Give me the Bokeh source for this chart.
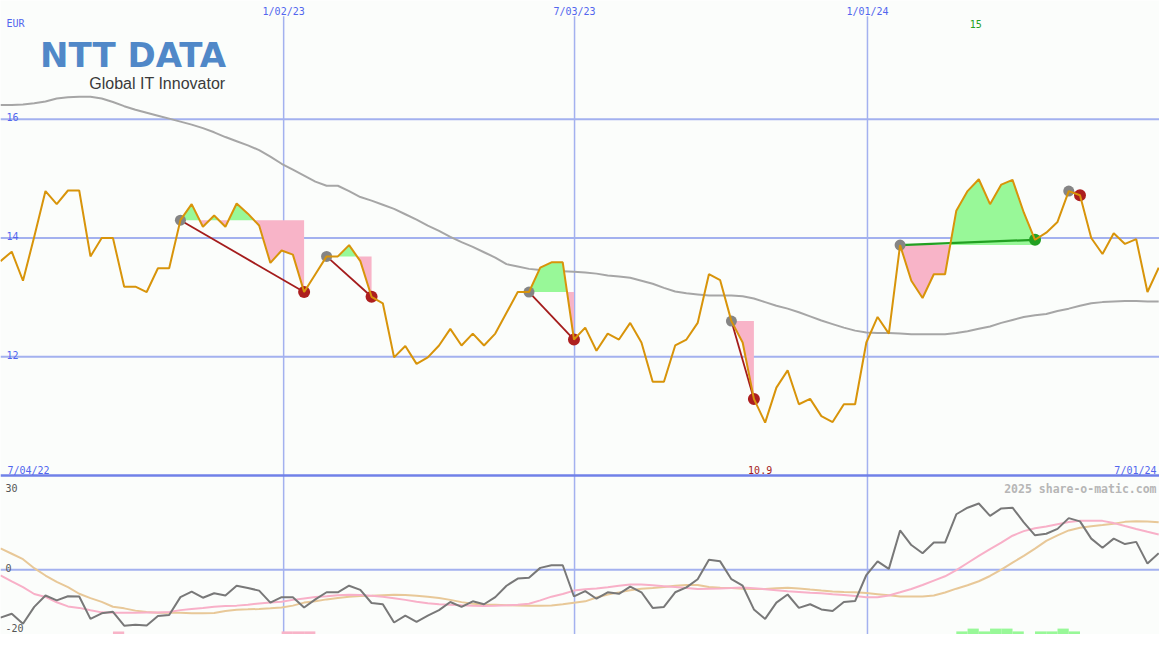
import numpy as np
from bokeh.plotting import figure
from bokeh.models import Range1d, Label
from bokeh.core.properties import value
from bokeh.embed import file_html
from bokeh.resources import INLINE

# ---------------- data (weekly, index 0 = 7/04/22) ----------------
price = [13.61, 13.77, 13.28, 14.02, 14.79, 14.57, 14.80, 14.80, 13.69, 14.00,
         14.00, 13.18, 13.18, 13.09, 13.49, 13.49, 14.30, 14.57, 14.19, 14.38,
         14.19, 14.58, 14.41, 14.21, 13.58, 13.79, 13.72, 13.09, 13.39, 13.69,
         13.69, 13.88, 13.61, 13.01, 12.90, 11.99, 12.18, 11.88, 11.99, 12.19,
         12.47, 12.19, 12.39, 12.19, 12.39, 12.74, 13.09, 13.09, 13.50, 13.59,
         13.59, 12.29, 12.49, 12.10, 12.39, 12.29, 12.57, 12.24, 11.58, 11.58,
         12.19, 12.29, 12.57, 13.39, 13.29, 12.60, 12.24, 11.29, 10.89, 11.48,
         11.77, 11.20, 11.29, 11.00, 10.90, 11.20, 11.20, 12.24, 12.67, 12.39,
         13.88, 13.28, 12.99, 13.39, 13.39, 14.46, 14.79, 14.99, 14.57, 14.90,
         14.98, 14.43, 13.97, 14.09, 14.27, 14.79, 14.72, 14.00, 13.73, 14.08,
         13.90, 13.98, 13.09, 13.50]

moving_avg = [16.24, 16.24, 16.25, 16.27, 16.30, 16.35, 16.37, 16.38, 16.38, 16.35,
              16.29, 16.22, 16.16, 16.11, 16.06, 16.01, 15.96, 15.91, 15.85, 15.78,
              15.70, 15.63, 15.56, 15.48, 15.37, 15.25, 15.15, 15.05, 14.95, 14.88,
              14.88, 14.79, 14.69, 14.63, 14.56, 14.49, 14.40, 14.31, 14.21, 14.12,
              14.02, 13.93, 13.85, 13.76, 13.67, 13.56, 13.52, 13.48, 13.46, 13.45,
              13.44, 13.43, 13.42, 13.40, 13.37, 13.35, 13.33, 13.28, 13.23, 13.16,
              13.10, 13.07, 13.05, 13.03, 13.03, 13.03, 13.02, 12.98, 12.92, 12.86,
              12.81, 12.75, 12.68, 12.61, 12.55, 12.49, 12.44, 12.41, 12.40, 12.40,
              12.39, 12.38, 12.38, 12.38, 12.38, 12.40, 12.43, 12.47, 12.51, 12.57,
              12.62, 12.67, 12.70, 12.72, 12.77, 12.81, 12.86, 12.90, 12.92, 12.93,
              12.94, 12.94, 12.93, 12.93]

osc_momentum = [-15.46, -14.20, -17.44, -12.00, -8.33, -9.90, -8.55, -8.64, -15.87, -14.07,
                -13.57, -18.06, -17.75, -17.97, -14.92, -14.61, -8.86, -7.07, -9.05, -7.60,
                -8.33, -5.18, -5.91, -6.75, -10.62, -8.86, -8.86, -12.19, -9.58, -7.29,
                -7.29, -5.18, -6.53, -10.74, -11.15, -17.03, -14.83, -16.81, -14.83, -13.04,
                -10.43, -12.00, -10.21, -11.15, -8.86, -5.18, -2.89, -2.58, 0.57, 1.41,
                1.41, -8.64, -6.90, -9.36, -7.29, -7.79, -5.50, -7.29, -12.32, -12.00,
                -7.29, -5.72, -3.08, 3.20, 2.67, -3.08, -5.18, -12.82, -15.87, -10.62,
                -8.01, -12.32, -11.15, -12.82, -13.35, -10.43, -10.12, -1.73, 2.67, 0.25,
                12.63, 7.92, 5.28, 8.73, 8.73, 17.84, 19.95, 21.30, 17.34, 19.73,
                19.95, 15.24, 11.06, 11.56, 13.13, 16.59, 15.55, 9.99, 7.07, 9.99,
                8.23, 8.95, 1.95, 5.28]

osc_fast = [-1.82, -3.77, -5.66, -7.85, -8.80, -10.52, -11.84, -12.32, -13.10, -13.76,
            -13.89, -13.89, -13.89, -13.82, -13.82, -13.67, -13.04, -12.66, -12.32, -11.94,
            -11.72, -11.59, -11.34, -10.90, -10.62, -10.37, -9.74, -9.27, -8.80, -8.55,
            -8.26, -8.07, -8.17, -8.39, -8.70, -9.21, -9.74, -10.37, -10.84, -11.18,
            -11.34, -11.47, -11.59, -11.69, -11.62, -11.50, -11.31, -11.00, -9.90, -8.70,
            -7.85, -6.75, -6.31, -6.06, -5.66, -5.18, -4.81, -4.81, -5.06, -5.31,
            -5.62, -5.94, -6.22, -6.12, -6.06, -5.91, -5.72, -5.97, -6.28, -6.60,
            -6.94, -7.19, -7.48, -7.60, -7.89, -8.17, -8.48, -8.86, -8.86, -8.33,
            -7.29, -6.22, -4.96, -3.52, -2.14, -0.16, 2.14, 4.46, 6.60, 8.70,
            10.93, 12.41, 13.35, 13.89, 14.61, 15.33, 15.77, 15.77, 15.71, 14.99,
            14.04, 13.10, 12.19, 11.31]

osc_slow = [6.85, 5.12, 3.36, 0.47, -1.89, -3.93, -5.62, -7.76, -9.17, -10.37,
            -11.94, -12.47, -13.20, -13.67, -13.89, -13.86, -13.86, -14.07, -14.07, -13.98,
            -13.29, -12.91, -12.79, -12.66, -12.44, -12.16, -11.59, -10.62, -10.15, -9.58,
            -9.14, -8.73, -8.51, -8.39, -8.23, -8.07, -8.17, -8.42, -8.70, -9.11,
            -9.74, -10.46, -10.97, -11.25, -11.34, -11.44, -11.53, -11.66, -11.62, -11.53,
            -11.15, -10.65, -10.21, -8.95, -8.01, -7.32, -6.66, -6.13, -5.88, -5.56,
            -5.18, -4.96, -4.96, -5.56, -5.81, -5.94, -6.13, -6.22, -6.22, -5.97,
            -5.81, -6.06, -6.41, -6.72, -7.01, -7.23, -7.29, -7.54, -7.89, -8.26,
            -8.64, -8.64, -8.64, -8.33, -7.38, -6.13, -5.03, -3.74, -2.04, 0.00,
            2.26, 4.46, 6.75, 9.27, 11.06, 12.63, 13.51, 13.98, 14.36, 14.77,
            15.39, 15.55, 15.49, 15.24]

date_labels = ["1/02/23", "7/03/23", "1/01/24"]
date_positions = [25.18, 51.05, 77.1]
start_label = "7/04/22"
end_label = "7/01/24"
currency = "EUR"
price_ticks = [16, 14, 12]
osc_ticks = [30, 0, -20]

trade_entries = [16, 29, 47, 65, 80, 95]
trade_exits = [27, 33, 51, 67, 92, 96]

green_bar_weeks = [85, 86, 87, 88, 89, 90, 92, 93, 94, 95]
green_bar_heights = [1.0, 1.9, 1.0, 1.9, 1.9, 1.0, 1.0, 1.0, 1.9, 1.0]
pink_bar_weeks = [10, 25, 26, 27]
pink_bar_heights = [1.0, 1.0, 1.0, 1.0]

# ---------------- styling ----------------
W, H = 1159, 634
BG = "#fbfdfb"
GRID = "#a3b1ef"
SEP = "#7081e8"
BLUE_TXT = "#5266ee"
ORANGE = "#d8940a"
GREEN_FILL = "#98f898"
PINK_FILL = "#f8b4c8"
LOSS = "#a41c1c"
GAIN = "#22a022"
MONO = value("DejaVu Sans Mono")

X_END = 103.07
PRICE_LO, PRICE_HI = 7.322, 18.0
OSC_LO, OSC_HI = -20.89, 183.32
PRICE_SEP = 10.0          # boundary between the two panels
OSC_TOP = 30.3

x = np.arange(len(price))

p = figure(width=W, height=H, x_range=Range1d(0, X_END),
           y_range=Range1d(PRICE_LO, PRICE_HI),
           output_backend="svg", toolbar_location=None,
           x_axis_location=None, y_axis_location=None,
           min_border=0, background_fill_color=BG, border_fill_color=BG,
           outline_line_color=None)
p.grid.visible = False
p.extra_y_ranges = {"osc": Range1d(OSC_LO, OSC_HI)}

# grid lines
for t in price_ticks:
    p.line([0, X_END], [t, t], line_color=GRID, line_width=2)
p.line([0, X_END], [0, 0], y_range_name="osc", line_color=GRID, line_width=2)
top_of_vlines = PRICE_HI - 16 / 60.75
p.segment(x0=date_positions, y0=[PRICE_LO] * 3, x1=date_positions,
          y1=[top_of_vlines] * 3, line_color=GRID, line_width=1.5)
p.line([0, X_END], [PRICE_SEP, PRICE_SEP], line_color=SEP, line_width=2.5)

# moving average
p.line(x, moving_avg, line_color="#a6a6a6", line_width=2)

# trade shading
pr = np.array(price)
for e, xo in zip(trade_entries, trade_exits):
    lvl = pr[e]
    xs, ys = [], []
    for i in range(e, xo):
        xs.append(i); ys.append(pr[i])
        a, b = pr[i] - lvl, pr[i + 1] - lvl
        if a * b < 0:
            t = a / (a - b)
            xs.append(i + t); ys.append(lvl)
    xs.append(xo); ys.append(pr[xo])
    xs = np.array(xs, dtype=float); ys = np.array(ys)
    base = np.full_like(xs, lvl)
    p.varea(x=xs, y1=base, y2=np.maximum(ys, lvl), fill_color=GREEN_FILL)
    p.varea(x=xs, y1=np.minimum(ys, lvl), y2=base, fill_color=PINK_FILL)

entry_px = [price[e] for e in trade_entries]
exit_px = [price[o] for o in trade_exits]
trade_cols = [GAIN if b > a else LOSS for a, b in zip(entry_px, exit_px)]
trade_w = [2.2 if b > a else 1.8 for a, b in zip(entry_px, exit_px)]
p.segment(x0=trade_entries, y0=entry_px, x1=trade_exits, y1=exit_px,
          line_color=trade_cols, line_width=trade_w)
p.scatter(trade_entries, entry_px, size=11, fill_color="#858585", line_color=None)
p.scatter(trade_exits, exit_px, size=12,
          fill_color=[GAIN if c == GAIN else "#ad1f1f" for c in trade_cols], line_color=None)

# price line
p.line(x, price, line_color=ORANGE, line_width=2)

# oscillator panel
p.quad(left=green_bar_weeks, right=[w + 1 for w in green_bar_weeks],
       bottom=[OSC_LO] * len(green_bar_weeks),
       top=[OSC_LO + h for h in green_bar_heights],
       y_range_name="osc", fill_color=GREEN_FILL, line_color=None)
p.quad(left=pink_bar_weeks, right=[w + 1 for w in pink_bar_weeks],
       bottom=[OSC_LO] * len(pink_bar_weeks),
       top=[OSC_LO + h for h in pink_bar_heights],
       y_range_name="osc", fill_color=PINK_FILL, line_color=None)
p.line(x, osc_slow, y_range_name="osc", line_color="#e8c898", line_width=2)
p.line(x, osc_fast, y_range_name="osc", line_color="#f8b0c8", line_width=2)
p.line(x, osc_momentum, y_range_name="osc", line_color="#787878", line_width=2)

# ---------------- texts ----------------
txt = dict(text_font=MONO, text_font_size="10px")
p.text(x=date_positions, y=[PRICE_HI] * 3, text=date_labels, text_align="center",
       text_baseline="alphabetic", y_offset=11, text_color=BLUE_TXT, **txt)
p.text(x=[0] * 3, y=price_ticks, text=[str(t) for t in price_ticks], x_offset=6,
       y_offset=-2, text_baseline="alphabetic", text_color=BLUE_TXT, **txt)
p.text(x=[0], y=[PRICE_HI], text=[currency], x_offset=6, y_offset=23,
       text_baseline="alphabetic", text_color=BLUE_TXT, **txt)
p.text(x=[0], y=[PRICE_SEP], text=[start_label], x_offset=7, y_offset=-5,
       text_baseline="alphabetic", text_color=BLUE_TXT, **txt)
p.text(x=[X_END], y=[PRICE_SEP], text=[end_label], x_offset=-3, y_offset=-5,
       text_align="right", text_baseline="alphabetic", text_color=BLUE_TXT, **txt)

i_min = int(np.argmin(pr)); i_max = int(np.argmax(pr))
p.text(x=[i_min], y=[PRICE_SEP], text=[f"{pr[i_min]:.1f}"], x_offset=-5, y_offset=-5,
       text_align="center", text_baseline="alphabetic", text_color=LOSS, **txt)
p.text(x=[i_max], y=[PRICE_HI], text=[f"{pr[i_max]:.0f}"], x_offset=-3, y_offset=23,
       text_align="center", text_baseline="alphabetic", text_color=GAIN, **txt)

osc_lab_y = [OSC_TOP, 0, -20]
osc_lab_off = [12, -2, -4]
for t, yy, off in zip(osc_ticks, osc_lab_y, osc_lab_off):
    p.text(x=[0], y=[yy], text=[str(t)], x_offset=5, y_offset=off, y_range_name="osc",
           text_baseline="alphabetic", text_color="#555555", **txt)

p.text(x=[X_END], y=[OSC_TOP], text=["2025 share-o-matic.com"], x_offset=-3, y_offset=13,
       y_range_name="osc", text_align="right", text_baseline="alphabetic",
       text_color="#b6b6b6", text_font=MONO, text_font_size="11.5px",
       text_font_style="bold")

# logo
sx = W / 1175.0
p.add_layout(Label(x=40 * sx, y=H - 54, x_units="screen", y_units="screen",
                   text="NTT DATA", text_font="DejaVu Sans", text_font_style="bold",
                   text_font_size="34px", text_color="#5088c8",
                   text_baseline="alphabetic"))
p.add_layout(Label(x=228 * sx, y=H - 83, x_units="screen", y_units="screen",
                   text="Global IT Innovator", text_font="Liberation Sans",
                   text_font_size="16px", text_color="#3a3a3a", text_align="right",
                   text_baseline="alphabetic"))

open("out.html", "w").write(file_html(p, INLINE))
